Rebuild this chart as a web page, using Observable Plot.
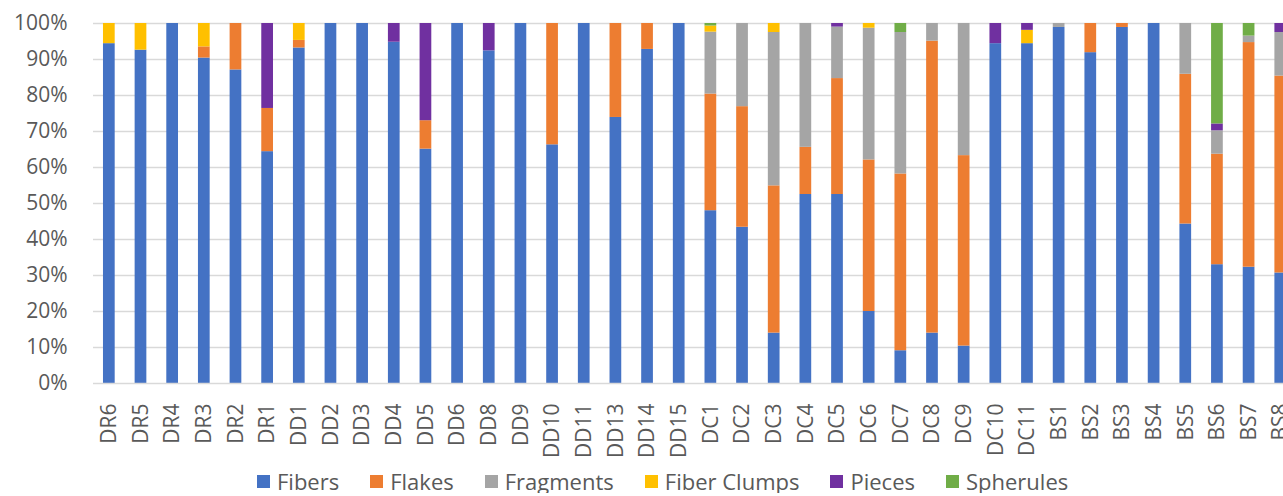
<!DOCTYPE html>
<html>
<head>
<meta charset="utf-8">
<script src="https://cdn.jsdelivr.net/npm/d3@7"></script>
<script src="https://cdn.jsdelivr.net/npm/@observablehq/plot@0.6"></script>
<style>
  html, body { margin: 0; padding: 0; background: #fff; overflow: hidden; }
  #wrap { width: 1283px; height: 462px; overflow: hidden; position: relative; }
  #wrap > svg { max-width: none !important; width: 1310px; height: 462px; display: block; }
  .lg-swatches { font-family: "Open Sans", sans-serif; font-size: 22px; line-height: 24px; color: #595959; margin: 0 !important; padding-top: 7px; padding-left: 257px; min-height: 24px !important; }
  .lg-swatch { margin-right: 31px; }
  .lg-swatch > svg { margin-right: 7px; }
</style>
</head>
<body>
<div id="wrap"></div>
<div id="legend"></div>
<script>
const categories = ["DR6","DR5","DR4","DR3","DR2","DR1","DD1","DD2","DD3","DD4","DD5","DD6","DD8","DD9","DD10","DD11","DD13","DD14","DD15","DC1","DC2","DC3","DC4","DC5","DC6","DC7","DC8","DC9","DC10","DC11","BS1","BS2","BS3","BS4","BS5","BS6","BS7","BS8"];
const types = ["Fibers","Flakes","Fragments","Fiber Clumps","Pieces","Spherules"];
const colors = ["#4472C4","#ED7D31","#A5A5A5","#FFC000","#7030A0","#70AD47"];

const fibers    = [94.4,92.6,100,90.4,87.1,64.4,93.2,100,100,94.8,65.1,100,92.4,100,66.3,100,73.9,92.8,100,48.0,43.4,14.0,52.5,52.5,20.0,9.1,14.0,10.4,94.4,94.4,98.9,91.9,98.9,100,44.3,33.0,32.3,30.7];
const flakes    = [0,0,0,3.1,12.9,12.0,2.1,0,0,0,7.9,0,0,0,33.7,0,26.1,7.2,0,32.4,33.5,40.9,13.1,32.2,42.1,49.1,81.1,52.9,0,0,0,8.1,1.1,0,41.6,30.7,62.4,54.7];
const fragments = [0,0,0,0,0,0,0,0,0,0,0,0,0,0,0,0,0,0,0,17.2,23.1,42.6,34.4,14.3,36.6,39.3,4.9,36.7,0,0,1.1,0,0,0,14.1,6.5,1.8,12.1];
const clumps    = [5.6,7.4,0,6.5,0,0,4.7,0,0,0,0,0,0,0,0,0,0,0,0,1.7,0,2.5,0,0,1.3,0,0,0,0,3.7,0,0,0,0,0,0,0,0];
const pieces    = [0,0,0,0,0,23.6,0,0,0,5.2,27.0,0,7.6,0,0,0,0,0,0,0,0,0,0,1.0,0,0,0,0,5.6,1.9,0,0,0,0,0,1.9,0,2.5];
const spherules = [0,0,0,0,0,0,0,0,0,0,0,0,0,0,0,0,0,0,0,0.7,0,0,0,0,0,2.5,0,0,0,0,0,0,0,0,0,27.9,3.5,0];

const series = [fibers, flakes, fragments, clumps, pieces, spherules];
const data = [];
types.forEach((t, i) => categories.forEach((c, j) => data.push({site: c, type: t, value: series[i][j]})));

// band geometry: step ≈ 31.66px, bar ≈ 37% of step, first band centred half a step from the left edge
const pad = 0.63;
const left = 93, step = 31.66;
const x0 = left + step / 2 - step * (pad + (1 - pad) / 2);
const x1 = x0 + step * (categories.length + pad);

const chart = Plot.plot({
  width: 1310,
  height: 462,
  marginLeft: 93,
  marginRight: 0,
  marginTop: 23,
  marginBottom: 79,
  style: { fontFamily: "'Open Sans', sans-serif", fontSize: "21px", color: "#595959", background: "#fff" },
  x: { type: "band", domain: categories, padding: pad, range: [x0, x1], round: false },
  y: { domain: [0, 100] },
  color: { domain: types, range: colors },
  marks: [
    Plot.gridY({ticks: d3.range(10, 101, 10), stroke: "#d9d9d9", strokeOpacity: 1, strokeWidth: 1.3}),
    Plot.barY(data, {x: "site", y: "value", fill: "type", order: types}),
    Plot.ruleY([0], {stroke: "#d9d9d9", strokeWidth: 1.3}),
    Plot.axisY({ticks: d3.range(0, 101, 10), tickFormat: d => d + "%", tickSize: 0, tickPadding: 26, label: null}),
    Plot.axisX({tickRotate: -90, tickSize: 0, tickPadding: 20, label: null})
  ]
});
document.getElementById("wrap").appendChild(chart);

const legend = Plot.legend({
  color: { type: "ordinal", domain: types, range: colors },
  legend: "swatches",
  swatchSize: 13,
  className: "lg"
});
document.getElementById("legend").appendChild(legend);
</script>
</body>
</html>
